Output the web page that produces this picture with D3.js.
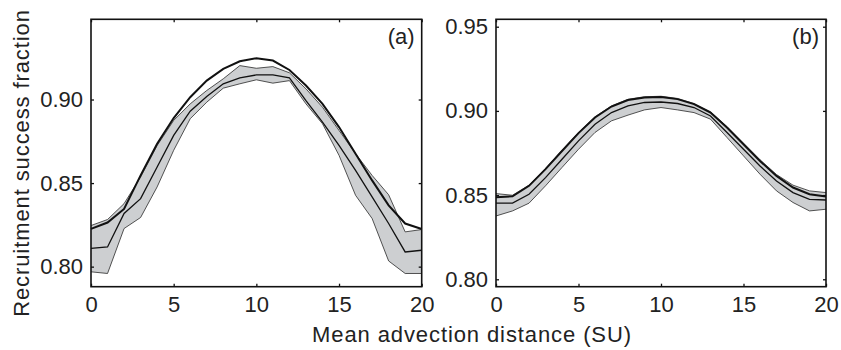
<!DOCTYPE html>
<html><head><meta charset="utf-8">
<script src="https://cdn.jsdelivr.net/npm/d3@7"></script>
<style>
html,body{margin:0;padding:0;background:#fff;}
svg{display:block;font-family:"Liberation Sans",Arial,Helvetica,sans-serif;}
</style></head>
<body>
<svg id="chart" width="841" height="350"></svg>
<script>
// ---- data ----
const xVals = [0,1,2,3,4,5,6,7,8,9,10,11,12,13,14,15,16,17,18,19,20];

// panel (a)
const aTop   = [0.8226,0.8264,0.8345,0.8546,0.8735,0.8889,0.9014,0.9113,0.9183,0.9229,0.9247,0.9233,0.9177,0.9084,0.8974,0.8835,0.8676,0.8516,0.8367,0.8258,0.8225];
const aMean  = [0.8109,0.8118,0.8318,0.8407,0.8596,0.8785,0.8930,0.9018,0.9094,0.9130,0.9147,0.9147,0.9130,0.8994,0.8865,0.8725,0.8576,0.8417,0.8258,0.8088,0.8098];
const aUpper = [0.8246,0.8282,0.8377,0.8536,0.8725,0.8875,0.8974,0.9054,0.9124,0.9203,0.9187,0.9197,0.9160,0.9064,0.8954,0.8815,0.8676,0.8546,0.8430,0.8208,0.8222];
const aLower = [0.7969,0.7959,0.8228,0.8294,0.8477,0.8696,0.8885,0.8984,0.9068,0.9094,0.9118,0.9098,0.9113,0.8974,0.8855,0.8666,0.8427,0.8288,0.8034,0.7959,0.7959];

// panel (b)
const bTop   = [0.8487,0.8493,0.8555,0.8654,0.8762,0.8868,0.8961,0.9026,0.9065,0.9080,0.9083,0.9070,0.9040,0.8990,0.8901,0.8802,0.8703,0.8614,0.8545,0.8505,0.8491];
const bMean  = [0.8452,0.8452,0.8505,0.8604,0.8713,0.8822,0.8921,0.8990,0.9030,0.9050,0.9053,0.9044,0.9020,0.8970,0.8872,0.8772,0.8673,0.8584,0.8515,0.8475,0.8471];
const bUpper = [0.8509,0.8499,0.8559,0.8658,0.8766,0.8872,0.8965,0.9030,0.9069,0.9084,0.9087,0.9074,0.9044,0.8995,0.8906,0.8808,0.8710,0.8622,0.8559,0.8525,0.8515];
const bLower = [0.8376,0.8406,0.8452,0.8555,0.8664,0.8772,0.8872,0.8941,0.8975,0.9006,0.9020,0.9006,0.8990,0.8951,0.8842,0.8733,0.8624,0.8525,0.8456,0.8406,0.8416];

const xTicks = [0,5,10,15,20];
const aYTicks = [0.80,0.85,0.90];
const bYTicks = [0.80,0.85,0.90,0.95];
const panelLabels = ["(a)","(b)"];
const xLabel = "Mean advection distance (SU)";
const yLabel = "Recruitment success fraction";

// ---- drawing ----
const svg = d3.select("#chart");
const FS = 22;

function panel(cfg){
  const {left,right,top,bottom,ydom,yticks,upper,lower,mean,topLine,label} = cfg;
  const x = d3.scaleLinear().domain([0,20]).range([left,right]);
  const y = d3.scaleLinear().domain(ydom).range([bottom,top]);
  const g = svg.append("g");

  const area = d3.area().x((d,i)=>x(xVals[i])).y0((d,i)=>y(lower[i])).y1((d,i)=>y(upper[i]));
  g.append("path").datum(upper).attr("d",area).attr("fill","#cdcfd1").attr("stroke","none");
  const line = arr => d3.line().x((d,i)=>x(xVals[i])).y(d=>y(d))(arr);
  g.append("path").attr("d",line(upper)).attr("fill","none").attr("stroke","#2a2a2a").attr("stroke-width",0.8);
  g.append("path").attr("d",line(lower)).attr("fill","none").attr("stroke","#2a2a2a").attr("stroke-width",0.8);
  g.append("path").attr("d",line(mean)).attr("fill","none").attr("stroke","#111").attr("stroke-width",1.3);
  g.append("path").attr("d",line(topLine)).attr("fill","none").attr("stroke","#111").attr("stroke-width",2);

  const styleAxis = a => { a.select(".domain").remove(); a.selectAll("line").attr("stroke","#111").attr("stroke-width",1.3);
    a.selectAll("text").attr("fill","#222").style("font-size",FS+"px"); };

  g.append("g").attr("transform",`translate(0,${bottom})`)
    .call(d3.axisBottom(x).tickValues(xTicks).tickSize(-3).tickPadding(10).tickFormat(d3.format("d"))).call(styleAxis);
  g.append("g").attr("transform",`translate(0,${top})`)
    .call(d3.axisTop(x).tickValues(xTicks).tickSize(-3).tickFormat("")).call(styleAxis);
  g.append("g").attr("transform",`translate(${left},0)`)
    .call(d3.axisLeft(y).tickValues(yticks).tickSize(-3).tickPadding(8).tickFormat(d3.format(".2f"))).call(styleAxis);
  g.append("g").attr("transform",`translate(${right},0)`)
    .call(d3.axisRight(y).tickValues(yticks).tickSize(-3).tickFormat("")).call(styleAxis);

  g.append("rect").attr("x",left).attr("y",top).attr("width",right-left).attr("height",bottom-top)
    .attr("fill","none").attr("stroke","#111").attr("stroke-width",1.6);

  g.append("text").attr("x",right-7).attr("y",top+25).attr("text-anchor","end")
    .style("font-size",FS+"px").attr("fill","#222").text(label);
}

panel({left:91,right:421.7,top:19.3,bottom:286.7,ydom:[0.788,0.948],yticks:aYTicks,
  upper:aUpper,lower:aLower,mean:aMean,topLine:aTop,label:panelLabels[0]});
panel({left:496,right:826,top:19.3,bottom:286.7,ydom:[0.7956,0.9544],yticks:bYTicks,
  upper:bUpper,lower:bLower,mean:bMean,topLine:bTop,label:panelLabels[1]});

svg.append("text").attr("x",472).attr("y",342).attr("text-anchor","middle")
  .style("font-size",FS+"px").style("letter-spacing","0.9px").attr("fill","#222").text(xLabel);
svg.append("text").attr("transform","translate(29,163) rotate(-90)").attr("text-anchor","middle")
  .style("font-size",FS+"px").style("letter-spacing","0.9px").attr("fill","#222").text(yLabel);
</script>
</body></html>
